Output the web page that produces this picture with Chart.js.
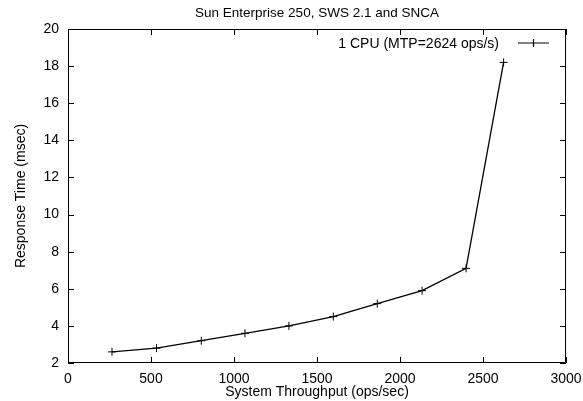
<!DOCTYPE html>
<html>
<head>
<meta charset="utf-8">
<script src="https://cdn.jsdelivr.net/npm/chart.js@4/dist/chart.umd.min.js"></script>
<style>
  html, body { margin: 0; padding: 0; background: #fff; }
  #wrap { width: 583px; height: 401px; }
</style>
</head>
<body>
<div id="wrap"><canvas id="myChart" width="583" height="401"></canvas></div>
<script>
// measured throughput (ops/sec) and response time (msec)
var throughput = [265, 533, 803, 1066, 1331, 1598, 1863, 2133, 2398, 2624];
var responseTime = [2.6, 2.8, 3.2, 3.6, 4.0, 4.5, 5.2, 5.9, 7.1, 18.2];
var xTicks = [0, 500, 1000, 1500, 2000, 2500, 3000];
var yTicks = [2, 4, 6, 8, 10, 12, 14, 16, 18, 20];
var seriesLabel = "1 CPU (MTP=2624 ops/s)";

var FONT = "'Liberation Sans', Arial, Helvetica, sans-serif";

// gnuplot style box: border on all four sides, ticks pointing inward, legend inside
var gnuplotBox = {
  id: "gnuplotBox",
  afterDatasetsDraw: function (chart) {
    var ctx = chart.ctx;
    var xs = chart.scales.x, ys = chart.scales.y;
    var L = Math.round(xs.getPixelForValue(0)), R = Math.round(xs.getPixelForValue(3000));
    var T = Math.round(ys.getPixelForValue(20)), B = Math.round(ys.getPixelForValue(2));
    var len = 6;
    ctx.save();
    ctx.strokeStyle = "#000";
    ctx.lineWidth = 1;
    ctx.beginPath();
    ctx.rect(L + 0.5, T + 0.5, R - L - 1, B - T - 1);
    xTicks.forEach(function (v) {
      var px = Math.round(xs.getPixelForValue(v)) + 0.5;
      ctx.moveTo(px, B); ctx.lineTo(px, B - len);
      ctx.moveTo(px, T); ctx.lineTo(px, T + len);
    });
    yTicks.forEach(function (v) {
      var py = Math.round(ys.getPixelForValue(v)) + 0.5;
      ctx.moveTo(L, py); ctx.lineTo(L + len, py);
      ctx.moveTo(R, py); ctx.lineTo(R - len, py);
    });
    ctx.stroke();

    // legend entry
    var ly = T + 14;
    var lx1 = R - 48, lx2 = R - 17;
    ctx.font = "14px " + FONT;
    ctx.fillStyle = "#000";
    ctx.textAlign = "right";
    ctx.textBaseline = "middle";
    ctx.fillText(seriesLabel, lx1 - 19, ly + 1);
    ctx.lineWidth = 1.2;
    ctx.beginPath();
    ctx.moveTo(lx1, ly); ctx.lineTo(lx2, ly);
    var cx = (lx1 + lx2) / 2;
    ctx.moveTo(cx, ly - 4); ctx.lineTo(cx, ly + 4);
    ctx.stroke();
    ctx.restore();
  }
};

function plain(v) { return String(v); }

var ctx = document.getElementById("myChart");
var myChart = new Chart(ctx, {
  type: "scatter",
  data: {
    datasets: [
      {
        label: seriesLabel,
        data: throughput.map(function (x, i) { return { x: x, y: responseTime[i] }; }),
        showLine: true,
        borderColor: "#000",
        backgroundColor: "#000",
        borderWidth: 1.3,
        pointStyle: "cross",
        pointRadius: 4,
        pointBorderWidth: 1,
        pointHoverRadius: 4,
      },
    ],
  },
  plugins: [gnuplotBox],
  options: {
    responsive: false,
    animation: false,
    devicePixelRatio: 1,
    layout: { padding: { left: 0, right: 17, top: 0, bottom: 0 } },
    plugins: {
      legend: { display: false },
      tooltip: { enabled: false },
      title: {
        display: true,
        text: "Sun Enterprise 250, SWS 2.1 and SNCA",
        fullSize: false,
        color: "#000",
        font: { family: FONT, size: 13.5, weight: "normal" },
        padding: { top: 5, bottom: 7.8 },
      },
    },
    scales: {
      x: {
        type: "linear",
        min: 0,
        max: 3000,
        afterBuildTicks: function (s) { s.ticks = xTicks.map(function (v) { return { value: v }; }); },
        afterFit: function (s) { s.height = 38; s.paddingLeft = 0; s.paddingRight = 0; },
        grid: { display: false, drawTicks: false },
        border: { display: false },
        ticks: { color: "#000", padding: 8, maxRotation: 0, callback: plain, font: { family: FONT, size: 14 } },
        title: {
          display: true,
          text: "System Throughput (ops/sec)",
          color: "#000",
          padding: 0,
          font: { family: FONT, size: 14 },
        },
      },
      y: {
        type: "linear",
        min: 2,
        max: 20,
        afterBuildTicks: function (s) { s.ticks = yTicks.map(function (v) { return { value: v }; }); },
        afterFit: function (s) { s.width = 68; s.paddingTop = 0; s.paddingBottom = 0; },
        grid: { display: false, drawTicks: false },
        border: { display: false },
        ticks: { color: "#000", padding: 9, callback: plain, font: { family: FONT, size: 14 } },
        title: {
          display: true,
          text: "Response Time (msec)",
          color: "#000",
          padding: { top: 13, bottom: 0 },
          font: { family: FONT, size: 14 },
        },
      },
    },
  },
});
</script>
</body>
</html>
